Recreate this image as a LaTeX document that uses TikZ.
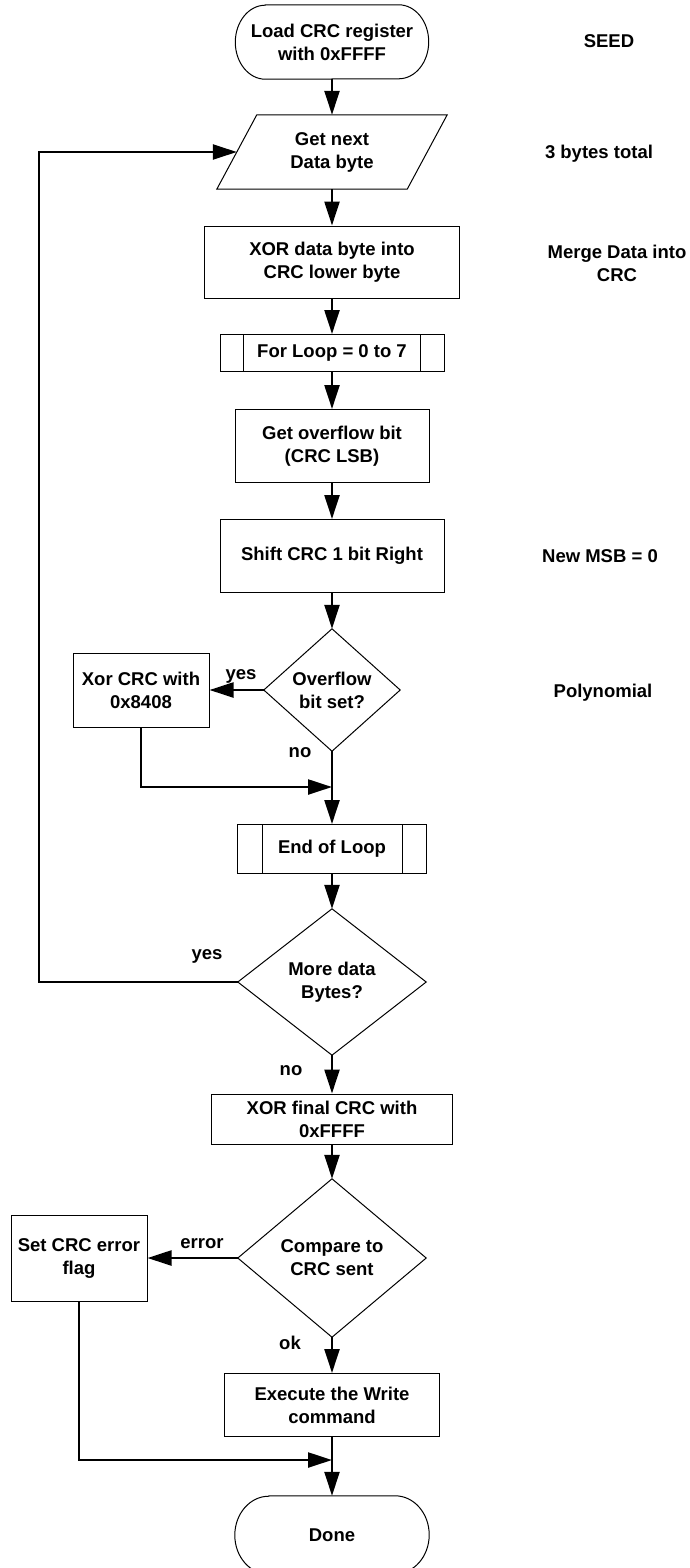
\documentclass[tikz,border=0pt]{standalone}
\usepackage{fontspec}
\setmainfont{Liberation Sans}
\usetikzlibrary{arrows.meta}
\begin{document}
\begin{tikzpicture}[x=1pt,y=-1pt,
    every node/.style={font=\bfseries\fontsize{18.5}{23}\selectfont,align=center,inner sep=0pt},
    box/.style={draw,line width=1pt},
    edge/.style={line width=1pt},
    flow/.style={line width=2.3pt,-{Triangle[length=24pt,width=15pt]}}]
    \fill[white] (0,0) rectangle (690,1568);
    \useasboundingbox (0,0) rectangle (690,1568);
    % main column
    \node[minimum width=193pt,minimum height=74pt] (load) at (332,42) {Load CRC register\\with 0xFFFF};
    \node[minimum width=230pt,minimum height=74pt] (getbyte) at (332,152) {Get next\\Data byte};
    \node[box,minimum width=255pt,minimum height=72pt] (mergebyte) at (332,262) {XOR data byte into\\CRC lower byte};
    \node[box,minimum width=224pt,minimum height=37pt] (forloop) at (332,353) {For Loop = 0 to 7};
    \node[box,minimum width=194pt,minimum height=73pt] (getbit) at (332,446) {Get overflow bit\\(CRC LSB)};
    \node[box,minimum width=224pt,minimum height=73pt] (shift) at (332,556) {Shift CRC 1 bit Right};
    \node[minimum width=136pt,minimum height=122pt] (overflow) at (332,690) {Overflow\\bit set?};
    \node[box,minimum width=136pt,minimum height=74pt] (poly) at (141,690) {Xor CRC with\\0x8408};
    \coordinate (join1) at (332,787);
    \node[box,minimum width=189pt,minimum height=49pt] (endloop) at (332,849) {End of Loop};
    \node[minimum width=188pt,minimum height=146pt] (more) at (332,982) {More data\\Bytes?};
    \coordinate (back) at (39,982);
    \node[box,minimum width=241pt,minimum height=50pt] (final) at (332,1119) {XOR final CRC with\\0xFFFF};
    \node[minimum width=188pt,minimum height=158pt] (compare) at (332,1258) {Compare to\\CRC sent};
    \node[box,minimum width=136pt,minimum height=86pt] (crcerr) at (79,1258) {Set CRC error\\flag};
    \node[box,minimum width=215pt,minimum height=63pt] (write) at (332,1405) {Execute the Write\\command};
    \coordinate (join2) at (332,1460);
    \node[minimum width=194pt,minimum height=78pt] (done) at (332,1535) {Done};
    % outlines
    \draw[edge] ([xshift=30pt]load.north west) -- ([xshift=-30pt]load.north east)
        arc[start angle=90,end angle=-90,x radius=30pt,y radius=37pt]
        -- ([xshift=30pt]load.south west)
        arc[start angle=270,end angle=90,x radius=30pt,y radius=37pt] -- cycle;
    \draw[edge] ([xshift=34pt]done.north west) -- ([xshift=-34pt]done.north east)
        arc[start angle=90,end angle=-90,x radius=34pt,y radius=39pt]
        -- ([xshift=34pt]done.south west)
        arc[start angle=270,end angle=90,x radius=34pt,y radius=39pt] -- cycle;
    \draw[edge] (getbyte.south west) -- ([xshift=-40pt]getbyte.south east)
        -- (getbyte.north east) -- ([xshift=40pt]getbyte.north west) -- cycle;
    \draw[edge] (overflow.north) -- (overflow.east) -- (overflow.south) -- (overflow.west) -- cycle;
    \draw[edge] (more.north) -- (more.east) -- (more.south) -- (more.west) -- cycle;
    \draw[edge] (compare.north) -- (compare.east) -- (compare.south) -- (compare.west) -- cycle;
    \draw[edge] ([xshift=24pt]forloop.north west) -- ([xshift=24pt]forloop.south west)
        ([xshift=-24pt]forloop.north east) -- ([xshift=-24pt]forloop.south east)
        ([xshift=25pt]endloop.north west) -- ([xshift=25pt]endloop.south west)
        ([xshift=-25pt]endloop.north east) -- ([xshift=-25pt]endloop.south east);
    % connectors
    \draw[flow] (load.south) -- (getbyte.north);
    \draw[flow] (getbyte.south) -- (mergebyte.north);
    \draw[flow] (mergebyte.south) -- (forloop.north);
    \draw[flow] (forloop.south) -- (getbit.north);
    \draw[flow] (getbit.south) -- (shift.north);
    \draw[flow] (shift.south) -- (overflow.north);
    \draw[flow] (overflow.west) -- (poly.east);
    \draw[flow] (overflow.south) -- (endloop.north);
    \draw[flow] (poly.south) |- (join1);
    \draw[flow] (endloop.south) -- (more.north);
    \draw[flow] (more.west) -- (back) |- ([xshift=20pt]getbyte.west);
    \draw[flow] (more.south) -- (final.north);
    \draw[flow] (final.south) -- (compare.north);
    \draw[flow] (compare.west) -- (crcerr.east);
    \draw[flow] (compare.south) -- (write.north);
    \draw[flow] (write.south) -- (done.north);
    \draw[flow] (crcerr.south) |- (join2);
    % branch labels
    \node[anchor=base] (yesovf) at (241,679) {yes};
    \node[anchor=base] (noovf) at (300,757) {no};
    \node[anchor=base] (yesmore) at (207,959) {yes};
    \node[anchor=base] (nomore) at (291,1075) {no};
    \node[anchor=base] (errcmp) at (202,1248) {error};
    \node[anchor=base] (okcmp) at (290,1349) {ok};
    % notes
    \node[anchor=base] (seed) at (609,48) {SEED};
    \node[anchor=base] (total) at (599,158) {3 bytes total};
    \node (mergenote) at (617,263) {Merge Data into\\CRC};
    \node[anchor=base] (msb) at (600,562) {New MSB = 0};
    \node[anchor=base] (polynote) at (603,697) {Polynomial};
\end{tikzpicture}
\end{document}
